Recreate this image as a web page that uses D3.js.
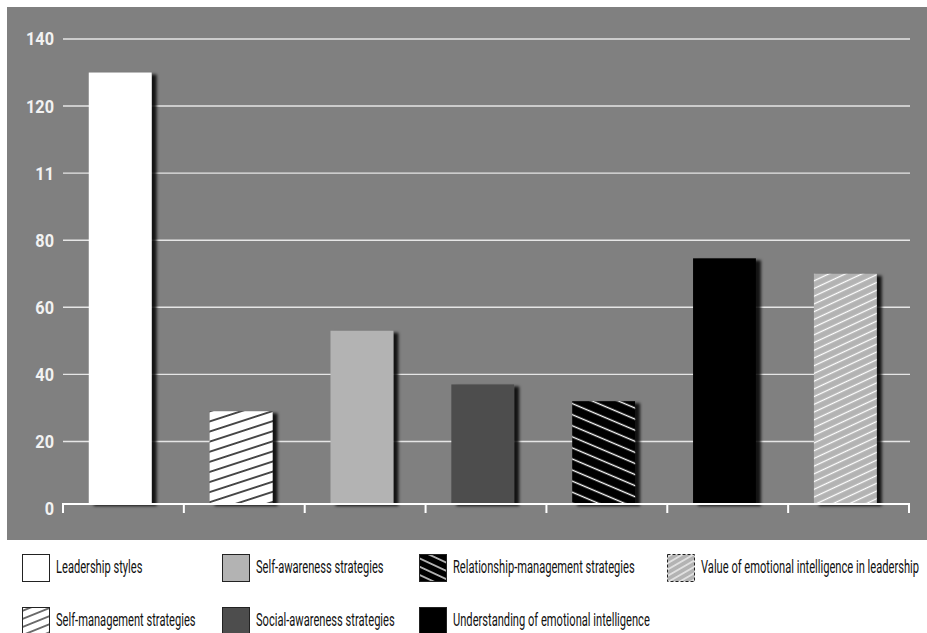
<!DOCTYPE html>
<html>
<head>
<meta charset="utf-8">
<script src="https://cdn.jsdelivr.net/npm/d3@7"></script>
<style>
  html, body { margin: 0; padding: 0; background: #ffffff; }
  svg { display: block; }
  text { font-family: "Roboto", "DejaVu Sans Condensed", sans-serif; }
</style>
</head>
<body>
<svg id="chart" width="927" height="633"></svg>
<script>
// ---- data ----
const categories = [
  "Leadership styles",
  "Self-management strategies",
  "Self-awareness strategies",
  "Social-awareness strategies",
  "Relationship-management strategies",
  "Understanding of emotional intelligence",
  "Value of emotional intelligence in leadership"
];
const values = [130, 29, 53, 37, 32, 74.6, 70];
const tickValues = [0, 20, 40, 60, 80, 100, 120, 140];
const tickLabels = ["0", "20", "40", "60", "80", "11", "120", "140"];
const fills = ["#ffffff", "url(#hatchSelfMgmt)", "#b3b3b3", "#4d4d4d", "url(#hatchRel)", "#000000", "url(#hatchValue)"];
const legendFills = ["#ffffff", "url(#hatchSelfMgmtLeg)", "#b3b3b3", "#4d4d4d", "url(#hatchRelLeg)", "#000000", "url(#hatchValueLeg)"];
// legend order (column-major, 4 columns x 2 rows)
const legendOrder = [0, 1, 2, 3, 4, 5, 6];

const svg = d3.select("#chart");
const defs = svg.append("defs");

// hatch patterns
function hatch(id, bg, stroke, angle, spacing, sw) {
  const p = defs.append("pattern")
    .attr("id", id)
    .attr("patternUnits", "userSpaceOnUse")
    .attr("width", 20).attr("height", spacing)
    .attr("patternTransform", `rotate(${angle})`);
  p.append("rect").attr("width", 20).attr("height", spacing).attr("fill", bg);
  p.append("line").attr("x1", 0).attr("x2", 20).attr("y1", spacing / 2).attr("y2", spacing / 2)
    .attr("stroke", stroke).attr("stroke-width", sw);
}
hatch("hatchSelfMgmt", "#ffffff", "#000000", -18, 9.6, 1.4);
hatch("hatchRel", "#000000", "#ffffff", 23, 10.2, 1.4);
hatch("hatchValue", "#b3b3b3", "#ffffff", -25, 7.0, 1.3);
hatch("hatchSelfMgmtLeg", "#ffffff", "#000000", -22, 7.5, 1.1);
hatch("hatchRelLeg", "#000000", "#ffffff", 25, 7.5, 1.3);
hatch("hatchValueLeg", "#b3b3b3", "#ffffff", -30, 5.5, 1.1);

// drop shadow
const f = defs.append("filter").attr("id", "shadow")
  .attr("x", "-20%").attr("y", "-10%").attr("width", "150%").attr("height", "130%");
f.append("feDropShadow").attr("dx", 5).attr("dy", 2).attr("stdDeviation", 1.8)
  .attr("flood-color", "#000").attr("flood-opacity", 0.85);

// background panel
svg.append("rect").attr("x", 7).attr("y", 7).attr("width", 920).attr("height", 533).attr("fill", "#808080");

const x0 = 63, x1 = 909;
const baseY = 504;
const y = d3.scaleLinear().domain([0, 140]).range([508.5, 39]);
const x = d3.scaleBand().domain(categories).range([x0, x1]).paddingInner(0.48).paddingOuter(0.24).align(0.47);

// gridlines
svg.append("g").selectAll("line").data(tickValues.filter(d => d > 0)).join("line")
  .attr("x1", x0).attr("x2", 910)
  .attr("y1", d => y(d)).attr("y2", d => y(d))
  .attr("stroke", "#e6e6e6").attr("stroke-width", 1.4);

// y labels (condensed by horizontal scaling)
const yl = svg.append("g").selectAll("text").data(tickValues).join("text")
  .attr("text-anchor", "end").attr("dominant-baseline", "central")
  .attr("font-size", 19).attr("font-weight", "bold").attr("fill", "#f2f2f2")
  .text((d, i) => tickLabels[i]);
const w140 = yl.filter((d, i) => tickLabels[i] === "140").node().getComputedTextLength();
const kY = 28 / w140;
yl.attr("transform", d => `translate(54,${y(d)}) scale(${kY},1)`);

// bars
svg.append("g").selectAll("rect").data(values).join("rect")
  .attr("x", (d, i) => x(categories[i]) - 1.5)
  .attr("y", d => y(d))
  .attr("width", x.bandwidth())
  .attr("height", d => baseY - y(d))
  .attr("fill", (d, i) => fills[i])
  .attr("filter", "url(#shadow)");

// x axis line + ticks at band boundaries
const step = x.step();
svg.append("line").attr("x1", x0 - 1).attr("x2", x1 + 1).attr("y1", baseY).attr("y2", baseY)
  .attr("stroke", "#ffffff").attr("stroke-width", 2);
svg.append("g").selectAll("line").data(d3.range(categories.length + 1)).join("line")
  .attr("x1", i => x0 + i * step).attr("x2", i => x0 + i * step)
  .attr("y1", baseY).attr("y2", baseY + 9)
  .attr("stroke", "#ffffff").attr("stroke-width", 2);

// legend
const colX = [22, 222, 419, 667];
const rowY = [554, 607];
const leg = svg.append("g");
const legTexts = [];
legendOrder.forEach((ci, k) => {
  const col = Math.floor(k / 2), row = k % 2;
  const gx = colX[col], gy = rowY[row];
  const g = leg.append("g").attr("transform", `translate(${gx},${gy})`);
  g.append("rect").attr("x", 0.5).attr("y", 0.5).attr("width", 27).attr("height", 27)
    .attr("fill", legendFills[ci]).attr("stroke", "#222").attr("stroke-width", 1)
    .attr("stroke-dasharray", ci === 6 ? "3,2" : null);
  const t = g.append("text")
    .attr("dominant-baseline", "central")
    .attr("font-size", 17.5).attr("fill", "#111")
    .text(categories[ci]);
  legTexts.push(t);
});
const wLead = legTexts[0].node().getComputedTextLength();
const kL = 86.5 / wLead;
legTexts.forEach(t => t.attr("transform", `translate(34,13.5) scale(${kL},1)`));
</script>
</body>
</html>
